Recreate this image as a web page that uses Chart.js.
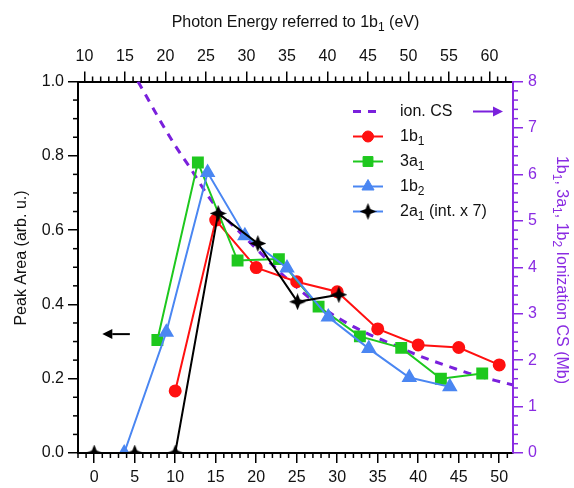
<!DOCTYPE html>
<html>
<head>
<meta charset="utf-8">
<script src="https://cdn.jsdelivr.net/npm/chart.js@4"></script>
<style>
  html, body { margin: 0; padding: 0; background: #fff; }
</style>
</head>
<body>
<canvas id="chart" width="574" height="488"></canvas>
<script>
// ionization cross section (right axis, Mb)
const ionX = [5.4, 6, 8, 10, 12, 14, 16, 18, 20, 22, 24, 26, 28, 30, 32, 34, 36, 38, 40, 42, 44, 46, 48, 50, 51.6];
const ionY = [8.0, 7.82, 7.2, 6.62, 6.1, 5.55, 5.1, 4.75, 4.4, 4.05, 3.72, 3.42, 3.15, 2.92, 2.72, 2.55, 2.4, 2.25, 2.1, 1.97, 1.85, 1.73, 1.63, 1.54, 1.47];
// peak areas (left axis)
const b1X = [10, 15, 20, 25, 30, 35, 40, 45, 50];
const b1Y = [0.167, 0.627, 0.499, 0.461, 0.434, 0.334, 0.291, 0.284, 0.237];
const a1X = [7.8, 12.8, 17.7, 22.8, 27.7, 32.8, 37.9, 42.8, 47.9];
const a1Y = [0.304, 0.782, 0.518, 0.522, 0.394, 0.314, 0.283, 0.200, 0.214];
const b2X = [3.7, 8.9, 14.0, 18.6, 23.8, 28.9, 33.9, 38.9, 43.9];
const b2Y = [0.0, 0.325, 0.755, 0.585, 0.498, 0.366, 0.281, 0.203, 0.178];
const a2X = [0, 5, 10, 15.3, 20.2, 25.1, 30.2];
const a2Y = [0, 0, 0, 0.645, 0.564, 0.407, 0.426];

const topOffset = 11.2;   // photon energy referred to 1b1 = bottom value + offset
const xRange = [-2, 51.7];

const FONT = '"Liberation Sans", Arial, sans-serif';
const PURPLE = '#8a2be2';
const DASH = '#7a20dc';
const RED = '#ff1010', GREEN = '#1ec81e', BLUE = '#4a86f2';

const pts = (xs, ys) => xs.map((x, i) => ({ x: x, y: ys[i] }));

// 4-point star marker
function starCanvas(size, color) {
  const c = document.createElement('canvas');
  c.width = size; c.height = size;
  const g = c.getContext('2d');
  const m = size / 2, r = size / 2, ri = size * 0.2;
  g.fillStyle = color;
  g.beginPath();
  for (let k = 0; k < 8; k++) {
    const a = -Math.PI / 2 + k * Math.PI / 4;
    const rr = k % 2 === 0 ? r : ri;
    g.lineTo(m + rr * Math.cos(a), m + rr * Math.sin(a));
  }
  g.closePath();
  g.fill();
  return c;
}
const star = starCanvas(17, '#000');

function parts(str) {
  // "1b_1" -> [["1b",false],["1",true]]
  const out = [];
  str.split(/(_\d)/).forEach(s => {
    if (!s) return;
    if (s[0] === '_') out.push([s.slice(1), true]);
    else out.push([s, false]);
  });
  return out;
}

function drawRich(ctx, str, x, y, align, size, color) {
  const p = parts(str);
  const big = size + 'px ' + FONT, small = Math.round(size * 0.72) + 'px ' + FONT;
  let w = 0;
  p.forEach(q => { ctx.font = q[1] ? small : big; w += ctx.measureText(q[0]).width; });
  let cx = align === 'center' ? x - w / 2 : x;
  ctx.fillStyle = color;
  ctx.textAlign = 'left';
  ctx.textBaseline = 'middle';
  p.forEach(q => {
    ctx.font = q[1] ? small : big;
    ctx.fillText(q[0], cx, q[1] ? y + size * 0.32 : y);
    cx += ctx.measureText(q[0]).width;
  });
}

function arrow(ctx, x1, y1, x2, y2, color) {
  const a = Math.atan2(y2 - y1, x2 - x1), L = 10, H = 5;
  ctx.strokeStyle = color; ctx.fillStyle = color; ctx.lineWidth = 2;
  ctx.beginPath();
  ctx.moveTo(x1, y1);
  ctx.lineTo(x2 - L * Math.cos(a), y2 - L * Math.sin(a));
  ctx.stroke();
  ctx.beginPath();
  ctx.moveTo(x2, y2);
  ctx.lineTo(x2 - L * Math.cos(a) + H * Math.sin(a), y2 - L * Math.sin(a) - H * Math.cos(a));
  ctx.lineTo(x2 - L * Math.cos(a) - H * Math.sin(a), y2 - L * Math.sin(a) + H * Math.cos(a));
  ctx.closePath();
  ctx.fill();
}

const minorTicks = {
  id: 'minorTicks',
  afterDraw(chart) {
    const ctx = chart.ctx;
    const specs = [
      { id: 'x', step: 1, major: 5, color: '#000', side: 'bottom' },
      { id: 'xTop', step: 1, major: 5, color: '#000', side: 'top' },
      { id: 'y', step: 0.05, major: 0.2, color: '#000', side: 'left' },
      { id: 'y2', step: 0.2, major: 1, color: PURPLE, side: 'right' }
    ];
    ctx.save();
    ctx.lineWidth = 1.5;
    specs.forEach(s => {
      const sc = chart.scales[s.id];
      ctx.strokeStyle = s.color;
      const start = Math.ceil(sc.min / s.step - 1e-6);
      for (let k = start; k * s.step <= sc.max + 1e-6; k++) {
        const v = k * s.step;
        const r = v / s.major;
        if (Math.abs(r - Math.round(r)) < 1e-6) continue;
        const p = sc.getPixelForValue(v);
        ctx.beginPath();
        if (s.side === 'bottom') { ctx.moveTo(p, sc.top); ctx.lineTo(p, sc.top + 5); }
        if (s.side === 'top') { ctx.moveTo(p, sc.bottom); ctx.lineTo(p, sc.bottom - 5); }
        if (s.side === 'left') { ctx.moveTo(sc.right, p); ctx.lineTo(sc.right - 5, p); }
        if (s.side === 'right') { ctx.moveTo(sc.left, p); ctx.lineTo(sc.left + 5, p); }
        ctx.stroke();
      }
    });
    ctx.restore();
  }
};

const extras = {
  id: 'extras',
  afterDraw(chart) {
    const ctx = chart.ctx, a = chart.chartArea;
    ctx.save();
    // titles
    drawRich(ctx, 'Photon Energy referred to 1b_1 (eV)', (a.left + a.right) / 2, 23, 'center', 16, '#111');
    ctx.save();
    ctx.translate(22, 258);
    ctx.rotate(-Math.PI / 2);
    drawRich(ctx, 'Peak Area (arb. u.)', 0, 0, 'center', 16, '#111');
    ctx.restore();
    ctx.save();
    ctx.translate(561, 270);
    ctx.rotate(Math.PI / 2);
    drawRich(ctx, '1b_1, 3a_1, 1b_2 Ionization CS (Mb)', 0, 0, 'center', 16, PURPLE);
    ctx.restore();

    // arrow to the left axis
    const xs = chart.scales.x, ys = chart.scales.y;
    arrow(ctx, xs.getPixelForValue(4.4), ys.getPixelForValue(0.32), xs.getPixelForValue(1.0), ys.getPixelForValue(0.32), '#000');

    // legend
    const items = [
      { label: 'ion. CS', color: DASH, dash: true },
      { label: '1b_1', color: RED, style: 'circle', r: 5.5 },
      { label: '3a_1', color: GREEN, style: 'rect', r: 7 },
      { label: '1b_2', color: BLUE, style: 'triangle', r: 7 },
      { label: '2a_1 (int. x 7)', color: BLUE, style: star, r: 8, mcolor: '#000' }
    ];
    const lx0 = 353, lx1 = 383, tx = 400;
    items.forEach((it, i) => {
      const y = 111.5 + i * 25;
      ctx.lineWidth = it.dash ? 3 : 2;
      ctx.strokeStyle = it.color;
      ctx.setLineDash(it.dash ? [8, 7] : []);
      ctx.beginPath(); ctx.moveTo(lx0, y); ctx.lineTo(lx1, y); ctx.stroke();
      ctx.setLineDash([]);
      if (it.style) {
        ctx.fillStyle = it.mcolor || it.color;
        ctx.strokeStyle = it.mcolor || it.color;
        ctx.lineWidth = 1;
        Chart.helpers.drawPoint(ctx, { pointStyle: it.style, radius: it.r, rotation: 0, borderWidth: 1 }, (lx0 + lx1) / 2, y);
      }
      drawRich(ctx, it.label, tx, y, 'left', 16, '#111');
    });
    arrow(ctx, 473, 111.5, 503, 111.5, DASH);
    ctx.restore();
  }
};

const tickFont = { family: FONT, size: 16 };

new Chart(document.getElementById('chart'), {
  type: 'line',
  data: {
    datasets: [
      { label: '2a1 (int. x 7)', data: pts(a2X, a2Y), borderColor: '#000', backgroundColor: '#000',
        borderWidth: 2, pointStyle: star, pointRadius: 8, yAxisID: 'y' },
      { label: '1b2', data: pts(b2X, b2Y), borderColor: BLUE, backgroundColor: BLUE,
        borderWidth: 2, pointStyle: 'triangle', pointRadius: 7, yAxisID: 'y' },
      { label: '3a1', data: pts(a1X, a1Y), borderColor: GREEN, backgroundColor: GREEN,
        borderWidth: 2, pointStyle: 'rect', pointRadius: 7, yAxisID: 'y' },
      { label: '1b1', data: pts(b1X, b1Y), borderColor: RED, backgroundColor: RED,
        borderWidth: 2, pointStyle: 'circle', pointRadius: 5.5, yAxisID: 'y' },
      { label: 'ion. CS', data: pts(ionX, ionY), borderColor: DASH, borderWidth: 3,
        borderDash: [8, 7], pointRadius: 0, cubicInterpolationMode: 'monotone', yAxisID: 'y2' }
    ]
  },
  options: {
    responsive: false,
    animation: false,
    devicePixelRatio: 1,
    layout: { padding: 0 },
    plugins: { legend: { display: false }, tooltip: { enabled: false } },
    scales: {
      x: {
        type: 'linear', position: 'bottom', min: xRange[0], max: xRange[1],
        ticks: { stepSize: 5, includeBounds: false, color: '#111', font: tickFont, padding: 5, maxRotation: 0 },
        grid: { drawOnChartArea: false, tickLength: 10, color: '#000', lineWidth: 1.5 },
        border: { color: '#000', width: 2 },
        afterFit: s => { s.height = 35; }
      },
      xTop: {
        type: 'linear', position: 'top', min: xRange[0] + topOffset, max: xRange[1] + topOffset,
        ticks: { stepSize: 5, includeBounds: false, color: '#111', font: tickFont, padding: 5, maxRotation: 0 },
        grid: { drawOnChartArea: false, tickLength: 10, color: '#000', lineWidth: 1.5 },
        border: { color: '#000', width: 2 },
        afterFit: s => { s.height = 81.5; }
      },
      y: {
        type: 'linear', position: 'left', min: 0, max: 1,
        ticks: { stepSize: 0.2, color: '#111', font: tickFont, padding: 4, callback: v => v.toFixed(1) },
        grid: { drawOnChartArea: false, tickLength: 10, color: '#000', lineWidth: 1.5 },
        border: { color: '#000', width: 2 },
        afterFit: s => { s.width = 78; }
      },
      y2: {
        type: 'linear', position: 'right', min: 0, max: 8,
        ticks: { stepSize: 1, color: PURPLE, font: tickFont, padding: 5 },
        grid: { drawOnChartArea: false, tickLength: 10, color: PURPLE, lineWidth: 1.5 },
        border: { color: PURPLE, width: 2 },
        afterFit: s => { s.width = 61; }
      }
    }
  },
  plugins: [minorTicks, extras]
});
</script>
</body>
</html>
